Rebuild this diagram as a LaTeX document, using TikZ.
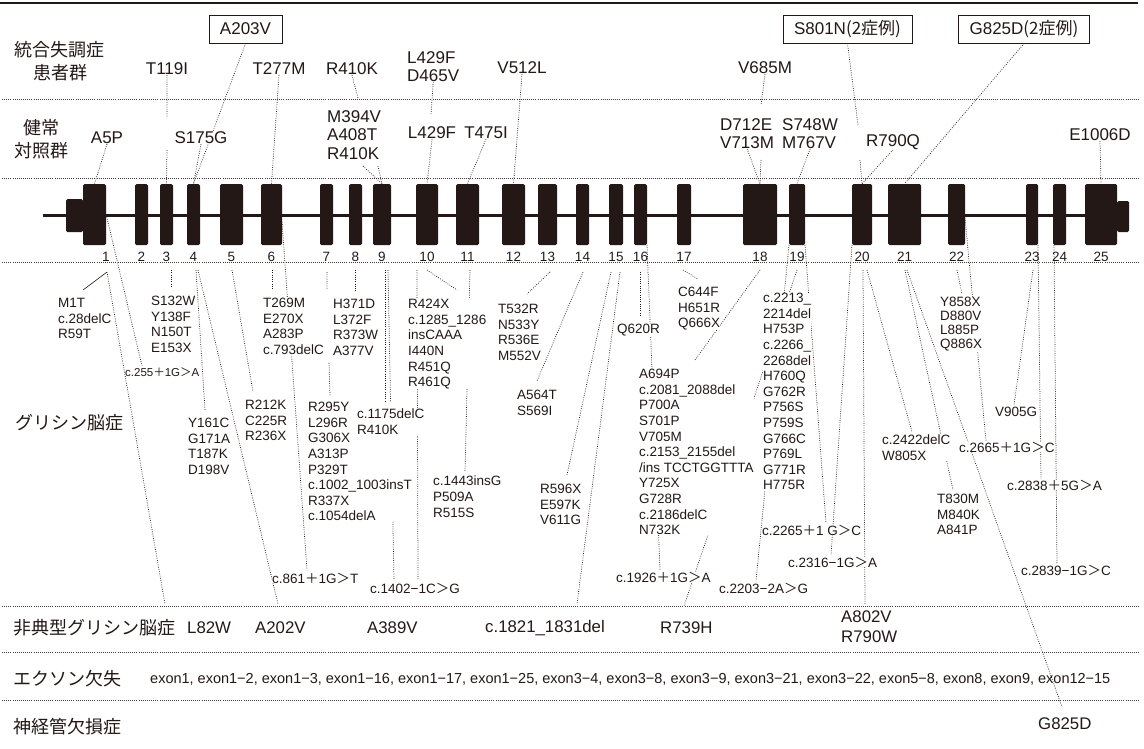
\documentclass[tikz,border=0pt]{standalone}
\usepackage{fontspec}
\setmainfont{Liberation Sans}
\newfontfamily\jp{Noto Sans CJK JP}
\usetikzlibrary{backgrounds}
\definecolor{ink}{HTML}{231815}
\newcommand\jplus{{\jp ＋}}
\newcommand\jgt{{\jp ＞}}

\begin{document}
\begin{tikzpicture}[x=1pt, y=-1pt,
  exon/.style={fill=ink, rounded corners=1.5pt, minimum height=61pt, inner sep=0pt},
  num/.style={font=\fontsize{13.5}{15}\selectfont, text=ink, inner sep=0pt},
  lbl/.style={font=\fontsize{17}{18.5}\selectfont, text=ink, inner sep=0pt, fill=white, align=left},
  boxed/.style={draw=ink, line width=0.9pt, font=\fontsize{17}{18.5}\selectfont, text=ink, inner xsep=11pt, inner ysep=0pt, minimum height=28pt, fill=white},
  mut/.style={font=\fontsize{13.5}{15.6}\selectfont, text=ink, inner sep=0pt, fill=white, align=left, anchor=north west},
  site/.style={font=\fontsize{13.5}{15.6}\selectfont, text=ink, inner sep=0pt, fill=white, anchor=west},
  atyp/.style={font=\fontsize{16.8}{20}\selectfont, text=ink, inner sep=0pt, anchor=west, align=left},
  grp/.style={font=\jp\fontsize{18}{23}\selectfont, text=ink, inner sep=0pt},
  con/.style={ink, line width=0.75pt, dash pattern=on 0.75pt off 1.5pt},
  sep/.style={ink!85, line width=0.7pt, dash pattern=on 0.7pt off 1.4pt}
]
\useasboundingbox (0,0) rectangle (1144,748);

% row labels
\node[grp, align=center] (rschiz) at (60,61) {統合失調症\\患者群};
\node[grp, align=center] (rhealthy) at (42,139) {健常\\対照群};
\node[grp, anchor=west] (rgly) at (15,423) {グリシン脳症};
\node[grp, anchor=west] (ratyp) at (13,628) {非典型グリシン脳症};
\node[grp, anchor=west] (rexon) at (13,679) {エクソン欠失};
\node[grp, anchor=west] (rntd) at (13,727) {神経管欠損症};

% gene
\draw[ink, line width=3pt] (43,215) -- (1085,215);
\node[exon, minimum width=17pt, minimum height=33pt] (e1u) at (74.5,215.5) {};
\node[exon, minimum width=23pt] (e1) at (94.5,214.5) {};
\node[num] (n1) at (106,257) {1};
\foreach \a/\b/\n in {135/148/2, 160/173/3, 187/200/4, 220/243/5, 261/282/6,
    320/333/7, 349/362/8, 373/391/9, 416/438/10, 456/479/11, 502/525/12,
    538/557/13, 576/589/14, 609/623/15, 634/647/16, 677/691/17, 743/777/18,
    789/805/19, 852/872/20, 888/921/21, 948/965/22, 1026/1038/23, 1053/1066/24}{
  \pgfmathsetmacro\exw{\b-\a}
  \pgfmathsetmacro\exc{(\a+\b)/2}
  \node[exon, minimum width=\exw pt] (e\n) at (\exc,214.5) {};
  \node[num] (n\n) at (\exc,257) {\n};
}
\node[exon, minimum width=12pt, minimum height=31pt] (e25u) at (1123,216.5) {};
\node[exon, minimum width=32pt] (e25) at (1101,214.5) {};
\node[num] (n25) at (1101,257) {25};

% schizophrenia
\node[boxed] (a203) at (245.5,29) {A203V};
\node[boxed] (s801) at (847.5,29) {S801N{\jp(2症例)}};
\node[boxed] (g825b) at (1024,29) {G825D{\jp(2症例)}};
\node[lbl] (t119) at (167,69) {T119I};
\node[lbl] (t277) at (279,69) {T277M};
\node[lbl] (r410s) at (352,69) {R410K};
\node[lbl, anchor=north west] (l429s) at (407,51) {L429F\\D465V};
\node[lbl] (v512) at (522,68) {V512L};
\node[lbl] (v685) at (765,68) {V685M};

% healthy controls
\node[lbl] (a5) at (107,138) {A5P};
\node[lbl] (s175) at (201,138) {S175G};
\node[lbl, anchor=north west] (m394) at (327,110) {M394V\\A408T\\R410K};
\node[lbl] (l429h) at (432,133) {L429F};
\node[lbl] (t475) at (486,133) {T475I};
\node[lbl, anchor=north west] (d712) at (720,118) {D712E\\V713M};
\node[lbl, anchor=north west] (s748) at (782,118) {S748W\\M767V};
\node[lbl] (r790) at (893,142) {R790Q};
\node[lbl] (e1006) at (1100,135) {E1006D};

% glycine encephalopathy
\node[mut] (g1) at (58,298) {M1T\\c.28delC\\R59T};
\node[site, font=\fontsize{11.5}{13}\selectfont] (c255) at (125,372) {c.255\jplus 1G\jgt A};
\node[mut] (g3) at (151,296) {S132W\\Y138F\\N150T\\E153X};
\node[mut] (g4) at (188,418) {Y161C\\G171A\\T187K\\D198V};
\node[mut] (g5) at (245,400) {R212K\\C225R\\R236X};
\node[mut] (g6) at (263,298) {T269M\\E270X\\A283P\\c.793delC};
\node[mut] (g7) at (308,402) {R295Y\\L296R\\G306X\\A313P\\P329T\\c.1002\_1003insT\\R337X\\c.1054delA};
\node[mut] (g8) at (333,299) {H371D\\L372F\\R373W\\A377V};
\node[mut] (g9) at (357,409) {c.1175delC\\R410K};
\node[mut] (g10) at (408,299) {R424X\\c.1285\_1286\\insCAAA\\I440N\\R451Q\\R461Q};
\node[mut] (g11) at (433,476) {c.1443insG\\P509A\\R515S};
\node[mut] (g13) at (498,304) {T532R\\N533Y\\R536E\\M552V};
\node[mut] (g14) at (517,390) {A564T\\S569I};
\node[mut] (g15) at (540,484) {R596X\\E597K\\V611G};
\node[site] (q620) at (617,330) {Q620R};
\node[mut] (g17) at (678,287) {C644F\\H651R\\Q666X};
\node[mut] (g18) at (639,369) {A694P\\c.2081\_2088del\\P700A\\S701P\\V705M\\c.2153\_2155del\\/ins TCCTGGTTTA\\Y725X\\G728R\\c.2186delC\\N732K};
\node[mut] (g19) at (763,293) {c.2213\_\\2214del\\H753P\\c.2266\_\\2268del\\H760Q\\G762R\\P756S\\P759S\\G766C\\P769L\\G771R\\H775R};
\node[mut] (g20) at (882,435) {c.2422delC\\W805X};
\node[mut, font=\fontsize{13.5}{14}\selectfont] (g22) at (940,297) {Y858X\\D880V\\L885P\\Q886X};
\node[mut] (g21) at (937,494) {T830M\\M840K\\A841P};
\node[site] (v905) at (995,412) {V905G};
\node[site] (c861) at (272,578) {c.861\jplus 1G\jgt T};
\node[site] (c1402) at (370,588) {c.1402−1C\jgt G};
\node[site] (c1926) at (616,577) {c.1926\jplus 1G\jgt A};
\node[site] (c2203) at (719,588) {c.2203−2A\jgt G};
\node[site] (c2265) at (762,530) {c.2265\jplus 1 G\jgt C};
\node[site] (c2316) at (788,562) {c.2316−1G\jgt A};
\node[site] (c2665) at (959,447) {c.2665\jplus 1G\jgt C};
\node[site] (c2838) at (1007,485) {c.2838\jplus 5G\jgt A};
\node[site] (c2839) at (1021,570) {c.2839−1G\jgt C};

% atypical, exon deletions, NTD
\node[atyp] (l82) at (187,628) {L82W};
\node[atyp] (a202) at (255,628) {A202V};
\node[atyp] (a389) at (367,628) {A389V};
\node[atyp] (c1821) at (485,628) {c.1821\_1831del};
\node[atyp] (r739) at (660,628) {R739H};
\node[atyp, anchor=north west] (a802) at (841,611) {A802V\\R790W};
\node[font=\fontsize{14.5}{16}\selectfont, text=ink, inner sep=0pt, anchor=west] (dels) at (150,679)
  {exon1, exon1−2, exon1−3, exon1−16, exon1−17, exon1−25, exon3−4, exon3−8, exon3−9, exon3−21, exon3−22, exon5−8, exon8, exon9, exon12−15};
\node[atyp] (g825) at (1038,724) {G825D};

\begin{scope}[on background layer]
  \draw[ink, line width=1.2pt] (0,3) -- (1138,3);
  \foreach \yy in {99,178,262,606,652,700}
    \draw[sep] (2,\yy) -- (1140,\yy);

  % upper connectors
  \draw[con] (a203.south) -- (e4.north);
  \draw[con] (t119.south) -- (167,118) (167,150) -- (e3.north);
  \draw[con] (s175.south) -- (e4.north);
  \draw[con] (a5.south) -- (e1.north);
  \draw[con] (t277.south) -- (e6.north);
  \draw[con] (r410s.south) -- (358,98);
  \draw[con] (363,166) -- (e9.north);
  \draw[con] (378,166) -- (e9.north);
  \draw[con] (l429s.south) -- (431,115);
  \draw[con] (l429h.south) -- (e10.north);
  \draw[con] (t475.south) -- (e11.north);
  \draw[con] (v512.south) -- (e12.north);
  \draw[con] (v685.south) -- (761,105);
  \draw[con] (d712.south) -- (e18.north);
  \draw[con] (761,160) -- (e18.north);
  \draw[con] (s801.south) -- (858,125) (860,160) -- (e20.north);
  \draw[con] (r790.south) -- (e20.north);
  \draw[con] (g825b.south) -- (e21.north);
  \draw[con] (s748.south) -- (e19.north);
  \draw[con] (e1006.south) -- (e25.north);

  % lower connectors
  \draw[ink, line width=0.6pt] (83,290) -- (107,272);
  \draw[con] (107,272) -- (165,604);
  \draw[con] (e1.east) -- (142,366);
  \draw[con] (171,270) -- (171,286);
  \draw[con] (196,270) -- (205,410);
  \draw[con] (198,270) -- (278,604);
  \draw[con] (232,270) -- (253,392);
  \draw[con] (272,270) -- (272,290);
  \draw[con] (282,222) -- (307,570);
  \draw[con] (327,272) -- (327,290) (329,363) -- (330,396);
  \draw[con] (355,270) -- (355,291);
  \draw[con] (385,270) -- (385,404);
  \draw[con] (388,270) -- (394,580);
  \draw[con] (417,270) -- (418,580);
  \draw[con] (427,270) -- (457,290);
  \draw[con] (470,270) -- (465,472);
  \draw[con] (550,272) -- (527,294);
  \draw[con] (583,272) -- (537,381);
  \draw[con] (611,272) -- (567,475);
  \draw[con] (620,272) -- (577,604);
  \draw[con] (640,272) -- (640,316);
  \draw[con] (647,245) -- (660,570);
  \draw[con] (760,270) -- (695,360);
  \draw[con] (683,270) -- (698,279);
  \draw[con] (789,245) -- (756,581);
  \draw[con] (797,270) -- (684,606);
  \draw[con] (805,245) -- (826,523);
  \draw[con] (852,245) -- (831,555);
  \draw[con] (863,270) -- (865,604);
  \draw[con] (867,270) -- (912,432);
  \draw[con] (905,270) -- (953,490);
  \draw[con] (907,270) -- (1062,707);
  \draw[con] (957,270) -- (962,294);
  \draw[con] (965,218) -- (986,441);
  \draw[con] (1033,270) -- (1014,405);
  \draw[con] (1038,245) -- (1041,479);
  \draw[con] (1054,245) -- (1057,564);
\end{scope}
\end{tikzpicture}
\end{document}
